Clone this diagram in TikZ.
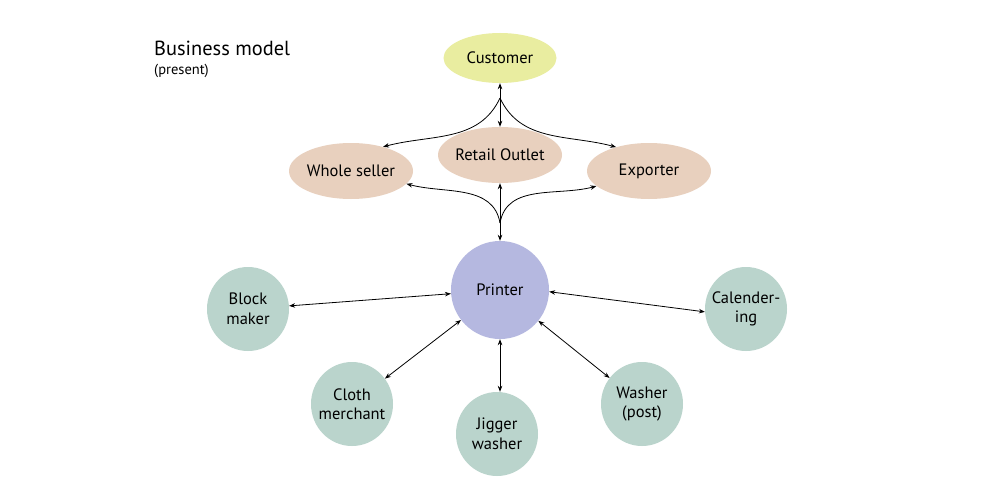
\documentclass[tikz,border=0pt]{standalone}
\usepackage{fontspec}
\setmainfont{PT Sans}
\usetikzlibrary{arrows.meta,shapes.geometric}
\definecolor{custcol}{HTML}{E9EDA0}
\definecolor{midcol}{HTML}{E8D0BE}
\definecolor{printcol}{HTML}{B5B8E0}
\definecolor{supcol}{HTML}{BAD4CC}
\begin{document}
\begin{tikzpicture}[x=1pt,y=-1pt,
  every node/.style={font=\fontsize{16.5}{19.5}\selectfont, text=black, inner sep=0pt, align=center},
  blob/.style={ellipse, draw=none, inner xsep=-25pt, inner ysep=-8pt},
  midbox/.style={blob, fill=midcol, minimum width=124pt, minimum height=56pt},
  supbox/.style={blob, fill=supcol, minimum width=82pt, minimum height=84pt},
  link/.style={line width=0.8pt, -{Stealth[length=6pt,width=4.5pt]}},
  dlink/.style={line width=0.8pt, {Stealth[length=6pt,width=4.5pt]}-{Stealth[length=6pt,width=4.5pt]}}]
\useasboundingbox (0,0) rectangle (1000,500);
\fill[white] (0,0) rectangle (1000,500);

\node[anchor=base west, font=\fontsize{20.4}{22}\selectfont] (title) at (154,56) {Business model};
\node[anchor=base west, font=\fontsize{14.5}{16}\selectfont] (sub) at (154,75) {(present)};

\node[blob, fill=custcol, minimum width=113pt, minimum height=50pt] (cust) at (500,58) {Customer};
\node[midbox] (retail) at (500,155) {Retail Outlet};
\node[midbox] (whole) at (351,171) {Whole seller};
\node[midbox] (exp) at (649,171) {Exporter};
\node[circle, fill=printcol, minimum size=98pt, inner sep=-10pt] (print) at (500,290) {Printer};

\node[supbox] (block) at (248,309) {Block\\maker};
\node[supbox] (cloth) at (352,404) {Cloth\\merchant};
\node[supbox] (jig) at (497,434) {Jigger\\washer};
\node[supbox] (wash) at (642,404) {Washer\\(post)};
\node[supbox] (cal) at (746,309) {Calender-\\ing};

\coordinate (j1) at (500,98);
\coordinate (j2) at (500,223);

% upper junction
\draw[link] (j1) -- (cust.south);
\draw[link] (j1) -- (retail.north);
\draw[link] (j1) to[out=-115,in=15] (whole.37);
\draw[link] (j1) to[out=-65,in=165] (exp.144);

% lower junction
\draw[link] (j2) -- (print.north);
\draw[link] (j2) -- (retail.south);
\draw[link] (j2) to[out=100,in=-15] (whole.-13);
\draw[link] (j2) to[out=80,in=195] (exp.196);

% printer links
\draw[dlink] (print) -- (block);
\draw[dlink] (print) -- (cloth);
\draw[dlink] (print.south) -- (print.south |- jig.north);
\draw[dlink] (print) -- (wash);
\draw[dlink] (print.-2) -- (cal.184);
\end{tikzpicture}
\end{document}
